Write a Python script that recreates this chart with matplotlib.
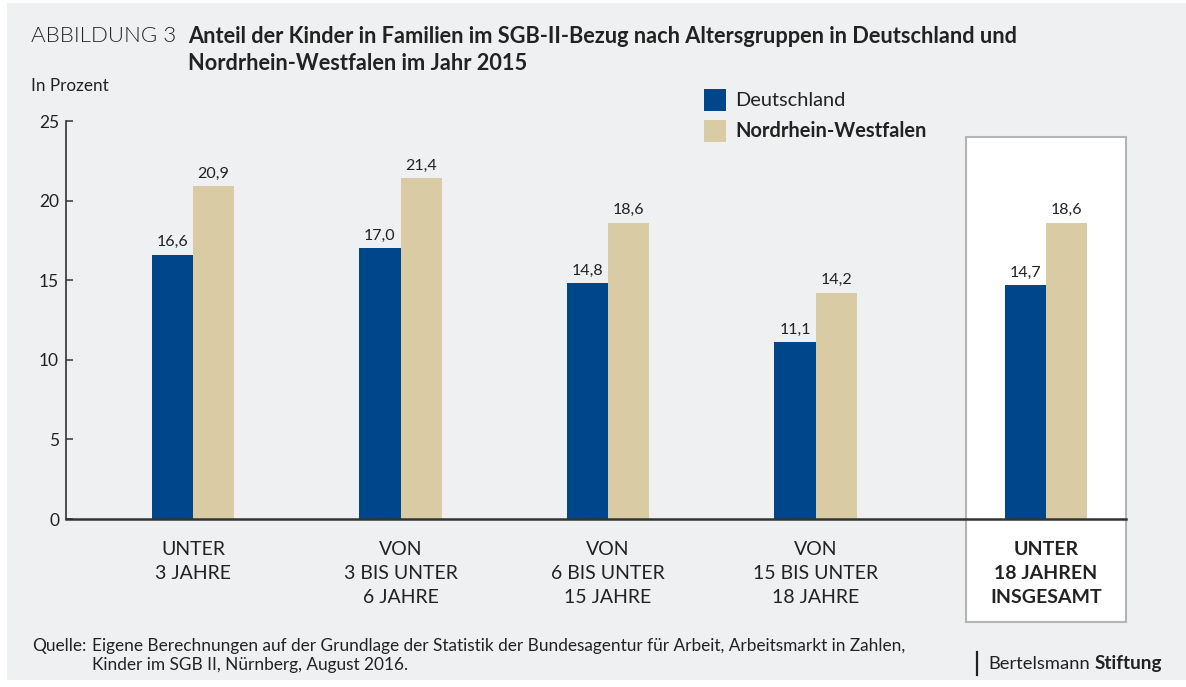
import matplotlib.pyplot as plt
from matplotlib.patches import Rectangle

plt.rcParams['font.family'] = ['Lato', 'DejaVu Sans']

# data
groups = ['UNTER\n3 JAHRE', 'VON\n3 BIS UNTER\n6 JAHRE', 'VON\n6 BIS UNTER\n15 JAHRE',
          'VON\n15 BIS UNTER\n18 JAHRE', 'UNTER\n18 JAHREN\nINSGESAMT']
deutschland = [16.6, 17.0, 14.8, 11.1, 14.7]
nrw = [20.9, 21.4, 18.6, 14.2, 18.6]
series_names = ['Deutschland', 'Nordrhein-Westfalen']

# layout
xpos = [0, 1, 2, 3, 4.11]
bw = 0.198
c_de = '#00468a'
c_nrw = '#d9cca5'
bg = '#eff0f2'
txt = '#222222'

W, H = 1186, 687
fig = plt.figure(figsize=(W / 100, H / 100), dpi=100, facecolor='white')


def fx(px):
    return px / W


def fy(py):
    return 1 - py / H


# gray panel and white highlight box
fig.patches.append(Rectangle((fx(7), fy(680)), fx(W - 7), 677 / H,
                             transform=fig.transFigure, facecolor=bg, edgecolor='none', zorder=-3))
fig.patches.append(Rectangle((fx(966), fy(622)), fx(160), 485 / H,
                             transform=fig.transFigure, facecolor='white', edgecolor='#b4b4b4',
                             linewidth=1.5, zorder=-2))

ax = fig.add_axes([fx(66), fy(519), fx(1060), 398 / H])
ax.set_zorder(1)
ax.patch.set_alpha(0)

b1 = ax.bar([x - bw / 2 for x in xpos], deutschland, bw, color=c_de, label=series_names[0])
b2 = ax.bar([x + bw / 2 for x in xpos], nrw, bw, color=c_nrw, label=series_names[1])

for bars, vals in [(b1, deutschland), (b2, nrw)]:
    for r, v in zip(bars, vals):
        ax.annotate(f'{v:.1f}'.replace('.', ','), (r.get_x() + r.get_width() / 2, v),
                    xytext=(0, 4), textcoords='offset points', ha='center', va='bottom',
                    fontsize=11.5, color=txt)

ax.set_xlim(-0.612, 4.496)
ax.set_ylim(0, 25)
ax.set_yticks(range(0, 26, 5))
ax.tick_params(axis='y', direction='in', length=5, width=1.2, color='#444444',
               labelsize=12.5, labelcolor=txt, pad=5)
ax.set_xticks(xpos)
ax.set_xticklabels(groups, fontsize=14, color=txt, linespacing=1.5)
ax.tick_params(axis='x', length=0, pad=16)
ax.get_xticklabels()[-1].set_fontweight('bold')

for s in ['top', 'right']:
    ax.spines[s].set_visible(False)
ax.spines['left'].set_color('#333333')
ax.spines['left'].set_linewidth(1.2)
ax.spines['bottom'].set_color('#333333')
ax.spines['bottom'].set_linewidth(1.8)

# legend drawn as patches + text
for i, (name, col) in enumerate(zip(series_names, [c_de, c_nrw])):
    y0 = 89 + i * 31
    fig.patches.append(Rectangle((fx(704), fy(y0 + 22)), fx(22), 22 / H,
                                 transform=fig.transFigure, facecolor=col, edgecolor='none'))
    fig.text(fx(735), fy(y0 + 11), name, fontsize=14.4, color=txt, va='center',
             fontweight='bold' if i == 1 else 'normal')

# titles
fig.text(fx(31), fy(36), 'ABBILDUNG 3', fontsize=16, fontweight=300, color=txt, va='center')
fig.text(fx(188), fy(50),
         'Anteil der Kinder in Familien im SGB-II-Bezug nach Altersgruppen in Deutschland und\n'
         'Nordrhein-Westfalen im Jahr 2015',
         fontsize=15.7, fontweight='bold', color=txt, va='center', linespacing=1.3)
fig.text(fx(31), fy(86), 'In Prozent', fontsize=12.3, color=txt, va='center')

# source
fig.text(fx(32), fy(646), 'Quelle:', fontsize=12.4, color=txt, va='center')
fig.text(fx(92), fy(655.5),
         'Eigene Berechnungen auf der Grundlage der Statistik der Bundesagentur für Arbeit, Arbeitsmarkt in Zahlen,\n'
         'Kinder im SGB II, Nürnberg, August 2016.',
         fontsize=12.4, color=txt, va='center', linespacing=1.24)

# logo
fig.add_artist(plt.Line2D([fx(977), fx(977)], [fy(675), fy(652)], color=txt, linewidth=1.6))
fig.text(fx(988), fy(664), 'Bertelsmann', fontsize=13.2, color=txt, va='center')
fig.text(fx(1095), fy(664), 'Stiftung', fontsize=13.6, color=txt, va='center', fontweight='bold')

fig.savefig('out.png', dpi=100, facecolor=fig.get_facecolor())
